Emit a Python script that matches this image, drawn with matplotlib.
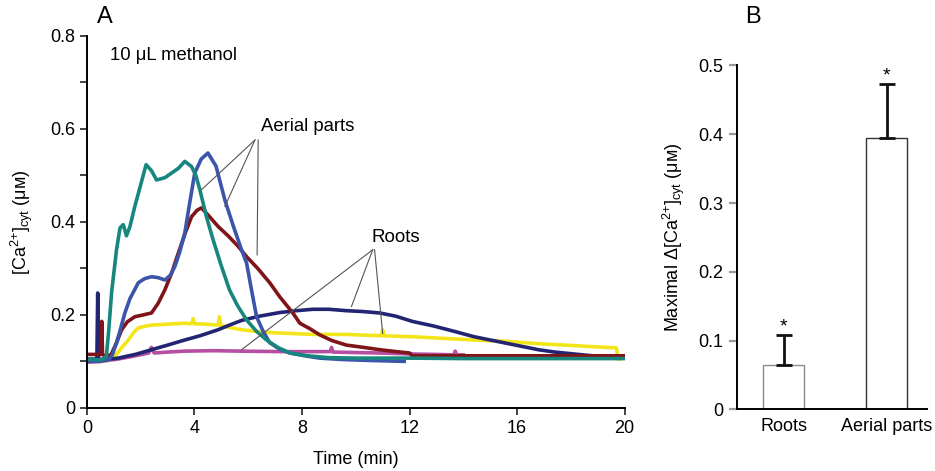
import matplotlib
matplotlib.use("Agg")
import matplotlib.pyplot as plt

plt.rcParams['font.family'] = ['Liberation Sans', 'DejaVu Sans']
plt.rcParams['mathtext.fontset'] = 'custom'
plt.rcParams['mathtext.rm'] = 'Liberation Sans'
plt.rcParams['mathtext.it'] = 'Liberation Sans:italic'
plt.rcParams['mathtext.bf'] = 'Liberation Sans:bold'

# ---- Panel A data: time (min) and [Ca2+]cyt (uM) ----
teal_t = [0, 0.5, 0.72, 0.8, 0.92, 1.1, 1.23, 1.35, 1.47, 1.6, 1.78, 2.0, 2.2, 2.4, 2.59, 2.9, 3.15, 3.4, 3.64, 3.89, 4.05, 4.2, 4.45, 4.7, 5.0, 5.3, 5.6, 5.94, 6.3, 6.68, 7.1, 7.55, 8.2, 9, 10, 12, 14, 16, 18, 20]
teal_v = [0.105, 0.103, 0.11, 0.16, 0.25, 0.34, 0.387, 0.394, 0.37, 0.39, 0.433, 0.48, 0.523, 0.51, 0.49, 0.495, 0.505, 0.515, 0.53, 0.519, 0.5, 0.469, 0.41, 0.36, 0.305, 0.254, 0.22, 0.189, 0.165, 0.146, 0.13, 0.118, 0.112, 0.108, 0.107, 0.107, 0.106, 0.106, 0.106, 0.106]

blue_t = [0, 0.5, 0.8, 0.95, 1.1, 1.25, 1.41, 1.6, 1.91, 2.15, 2.4, 2.65, 2.9, 3.1, 3.27, 3.45, 3.64, 3.82, 4.01, 4.25, 4.5, 4.8, 5.13, 5.45, 5.75, 5.94, 6.12, 6.31, 6.55, 6.8, 7.15, 7.55, 8.1, 8.66, 9.5, 10.5, 11.8]
blue_v = [0.1, 0.1, 0.103, 0.115, 0.14, 0.17, 0.204, 0.235, 0.269, 0.278, 0.282, 0.28, 0.275, 0.285, 0.304, 0.335, 0.376, 0.44, 0.505, 0.535, 0.548, 0.52, 0.447, 0.39, 0.34, 0.311, 0.254, 0.196, 0.165, 0.14, 0.127, 0.118, 0.112, 0.107, 0.104, 0.102, 0.1]

red_t = [0, 0.3, 0.52, 0.55, 0.58, 0.7, 0.9, 1.1, 1.29, 1.5, 1.78, 2.1, 2.4, 2.65, 2.9, 3.15, 3.4, 3.65, 3.89, 4.1, 4.26, 4.5, 4.88, 5.25, 5.63, 5.94, 6.35, 6.8, 7.17, 7.66, 7.92, 8.3, 8.66, 9.1, 9.65, 10.3, 10.9, 11.5, 12.0, 12.1, 14, 16, 18, 20]
red_v = [0.115, 0.115, 0.115, 0.186, 0.115, 0.11, 0.115, 0.14, 0.168, 0.185, 0.196, 0.2, 0.204, 0.225, 0.254, 0.29, 0.333, 0.375, 0.411, 0.425, 0.43, 0.415, 0.39, 0.37, 0.347, 0.325, 0.3, 0.269, 0.239, 0.204, 0.182, 0.17, 0.157, 0.145, 0.135, 0.13, 0.125, 0.121, 0.118, 0.112, 0.112, 0.112, 0.112, 0.112]

navy_t = [0, 0.34, 0.37, 0.4, 0.43, 0.6, 1.16, 1.8, 2.4, 3.0, 3.64, 4.2, 4.88, 5.3, 5.75, 6.4, 7.17, 7.8, 8.4, 9.0, 9.65, 10.3, 10.9, 11.5, 12.1, 12.9, 13.7, 14.4, 15.0, 15.6, 16.2, 16.8, 17.4, 18.1, 18.8, 19.0]
navy_v = [0.105, 0.105, 0.105, 0.247, 0.105, 0.103, 0.107, 0.115, 0.125, 0.135, 0.146, 0.155, 0.168, 0.178, 0.188, 0.197, 0.205, 0.209, 0.212, 0.212, 0.209, 0.207, 0.204, 0.197, 0.186, 0.176, 0.164, 0.153, 0.146, 0.139, 0.132, 0.125, 0.12, 0.116, 0.112, 0.11]

yellow_t = [0, 0.6, 0.9, 1.1, 1.3, 1.54, 1.75, 1.91, 2.2, 2.4, 3.0, 3.64, 3.9, 3.95, 4.0, 4.4, 4.88, 4.93, 4.98, 5.3, 5.75, 6.5, 7.17, 8.4, 9.65, 10.5, 10.95, 11.0, 11.05, 12.1, 13.1, 14.4, 15.6, 16.8, 18.1, 19.0, 19.7, 19.75, 19.8]
yellow_v = [0.1, 0.1, 0.105, 0.115, 0.13, 0.146, 0.163, 0.172, 0.176, 0.178, 0.18, 0.182, 0.181, 0.192, 0.181, 0.18, 0.178, 0.196, 0.177, 0.173, 0.168, 0.163, 0.161, 0.158, 0.158, 0.156, 0.155, 0.168, 0.155, 0.153, 0.15, 0.146, 0.143, 0.138, 0.134, 0.131, 0.129, 0.105, 0.105]

magenta_t = [0, 0.5, 1.16, 1.8, 2.3, 2.4, 2.5, 3.0, 3.64, 4.7, 5.75, 7.17, 8.4, 9.05, 9.1, 9.15, 10.0, 10.9, 12.0, 13.0, 13.65, 13.7, 13.75, 14.0]
magenta_v = [0.098, 0.1, 0.105, 0.112, 0.118, 0.13, 0.118, 0.12, 0.122, 0.123, 0.122, 0.121, 0.121, 0.121, 0.13, 0.12, 0.119, 0.118, 0.116, 0.115, 0.114, 0.122, 0.114, 0.114]

# ---- Panel B data ----
bar_labels = ['Roots', 'Aerial parts']
bar_values = [0.064, 0.395]
bar_errors = [0.044, 0.078]

fig = plt.figure(figsize=(9.35, 4.71), dpi=100)
axA = fig.add_axes([0.093, 0.134, 0.575, 0.79])
axB = fig.add_axes([0.788, 0.131, 0.203, 0.730])

series = [
    (magenta_t, magenta_v, '#b64fa2'),
    (yellow_t, yellow_v, '#f2e61a'),
    (navy_t, navy_v, '#232572'),
    (red_t, red_v, '#7f1419'),
    (blue_t, blue_v, '#3b55aa'),
    (teal_t, teal_v, '#17877e'),
]
for t, v, c in series:
    axA.plot(t, v, color=c, lw=2.6, solid_joinstyle='round')

fs = 13
ylab_core = '[Ca$^{2{+}}$]$_{\\mathrm{cyt}}$ (μ\u1d0d)'

axA.set_xlim(0, 20)
axA.set_ylim(0, 0.8)
axA.set_xticks([0, 4, 8, 12, 16, 20])
axA.set_yticks([0, 0.2, 0.4, 0.6, 0.8])
axA.set_yticklabels(['0', '0.2', '0.4', '0.6', '0.8'])
axA.set_yticks([0.1, 0.3, 0.5, 0.7], minor=True)
for s in ['top', 'right']:
    axA.spines[s].set_visible(False)
for s in ['left', 'bottom']:
    axA.spines[s].set_linewidth(1.4)
axA.tick_params(axis='both', which='both', direction='out', length=5, width=1.2, labelsize=fs, color='#222')
axA.set_xlabel('Time (min)', fontsize=fs, labelpad=10)
axA.set_ylabel(ylab_core, fontsize=fs, labelpad=11)

axA.text(0.85, 0.757, '10 μL methanol', fontsize=13.3, va='center', ha='left')
axA.text(8.2, 0.604, 'Aerial parts', fontsize=13.3, va='center', ha='center')
axA.text(11.5, 0.366, 'Roots', fontsize=13.5, va='center', ha='center')

lc = dict(color='#555555', lw=0.8)
# Aerial parts leader lines
axA.plot([6.25, 4.26], [0.576, 0.469], **lc)
axA.plot([6.25, 5.13], [0.576, 0.433], **lc)
axA.plot([6.37, 6.33], [0.576, 0.329], **lc)
# Roots leader lines
axA.plot([10.63, 5.75], [0.340, 0.125], **lc)
axA.plot([10.63, 9.84], [0.340, 0.218], **lc)
axA.plot([10.70, 11.0], [0.340, 0.160], **lc)

# ---- Panel B ----
xpos = [0, 1]
axB.bar(xpos, bar_values, width=0.4, color='white', edgecolor=['#8a8a8a', '#333333'], linewidth=1.0, zorder=2)
axB.errorbar(xpos, bar_values, yerr=[[0, 0], bar_errors], fmt='none', ecolor='#111111',
             elinewidth=2.0, capsize=6, capthick=2.0, zorder=3)
for x, v, e in zip(xpos, bar_values, bar_errors):
    axB.text(x, v + e + 0.012, '*', ha='center', va='center', fontsize=14)
axB.set_xlim(-0.456, 1.388)
axB.set_ylim(0, 0.5)
axB.set_yticks([0, 0.1, 0.2, 0.3, 0.4, 0.5])
axB.set_yticklabels(['0', '0.1', '0.2', '0.3', '0.4', '0.5'])
axB.set_xticks(xpos)
axB.set_xticklabels(bar_labels)
for s in ['top', 'right']:
    axB.spines[s].set_visible(False)
for s in ['left', 'bottom']:
    axB.spines[s].set_linewidth(1.4)
axB.tick_params(axis='y', direction='out', length=6, width=1.6, color='#999999', labelsize=fs)
axB.tick_params(axis='x', length=0, labelsize=fs, pad=6)
axB.set_ylabel('Maximal Δ' + ylab_core, fontsize=fs, labelpad=8)

fig.text(0.112, 0.963, 'A', fontsize=17, ha='center', va='center')
fig.text(0.805, 0.963, 'B', fontsize=17, ha='center', va='center')

fig.savefig('out.png', dpi=100)
